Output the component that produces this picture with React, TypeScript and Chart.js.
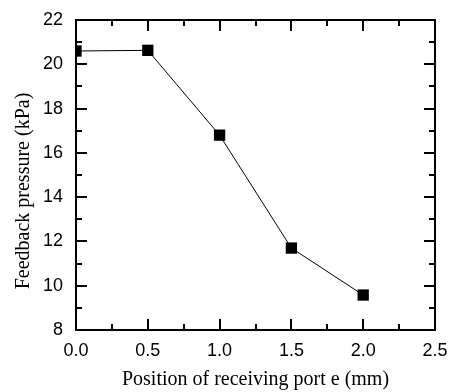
import React, { useEffect, useRef } from "react";
import { Chart, registerables } from "chart.js";

Chart.register(...registerables);

const positions = [0.0, 0.5, 1.0, 1.5, 2.0];
const pressures = [20.6, 20.63, 16.8, 11.7, 9.58];
const xTitle = "Position of receiving port e (mm)";
const yTitle = "Feedback pressure (kPa)";

const tickPlugin = {
  id: "frameTicks",
  afterDraw(chart: any) {
    const { ctx, chartArea: a, scales } = chart;
    const xs = scales.x;
    const ys = scales.y;
    ctx.save();
    ctx.strokeStyle = "#000";
    ctx.lineWidth = 2;
    ctx.strokeRect(a.left, a.top, a.right - a.left, a.bottom - a.top);
    ctx.beginPath();
    for (let i = 0; i <= 10; i++) {
      const v = i * 0.25;
      const px = Math.round(xs.getPixelForValue(v));
      const len = i % 2 === 0 ? 11 : 6;
      ctx.moveTo(px, a.bottom);
      ctx.lineTo(px, a.bottom - len);
      ctx.moveTo(px, a.top);
      ctx.lineTo(px, a.top + len);
    }
    for (let i = 0; i <= 14; i++) {
      const v = 8 + i;
      const py = Math.round(ys.getPixelForValue(v));
      const len = i % 2 === 0 ? 11 : 6;
      ctx.moveTo(a.left, py);
      ctx.lineTo(a.left + len, py);
      ctx.moveTo(a.right, py);
      ctx.lineTo(a.right - len, py);
    }
    ctx.stroke();
    // y-axis title
    ctx.translate(24, 191);
    ctx.rotate(-Math.PI / 2);
    ctx.fillStyle = "#000";
    ctx.font = '20px "Liberation Serif", "Times New Roman", serif';
    ctx.textAlign = "center";
    ctx.textBaseline = "middle";
    ctx.fillText(yTitle, 0, 0);
    ctx.restore();
  },
};

export default function App() {
  const ref = useRef<HTMLCanvasElement>(null);
  useEffect(() => {
    document.body.style.margin = "0";
    const chart = new Chart(ref.current!, {
      type: "line",
      data: {
        datasets: [
          {
            data: positions.map((x, i) => ({ x, y: pressures[i] })),
            borderColor: "#000",
            backgroundColor: "#000",
            borderWidth: 1,
            pointStyle: "rect",
            pointRadius: 8,
            pointBorderWidth: 0,
            clip: 0,
          } as any,
        ],
      },
      options: {
        animation: false,
        responsive: false,
        devicePixelRatio: 1,
        layout: { padding: { top: 20, right: 17, left: 10, bottom: 0 } },
        plugins: { legend: { display: false }, tooltip: { enabled: false } },
        scales: {
          x: {
            type: "linear",
            min: 0,
            max: 2.5,
            grid: { display: false, drawTicks: false },
            border: { display: false },
            ticks: {
              stepSize: 0.5,
              color: "#000",
              padding: 10,
              font: { family: "Liberation Sans, Arial", size: 18 },
              callback: (v: any) => Number(v).toFixed(1),
            },
            title: {
              display: true,
              text: xTitle,
              color: "#000",
              font: { family: "Liberation Serif, Times New Roman", size: 20 },
              padding: { top: 0, bottom: 0 },
            },
            afterFit: (s: any) => {
              s.height = 62;
              s.paddingLeft = 0;
              s.paddingRight = 0;
            },
          },
          y: {
            type: "linear",
            min: 8,
            max: 22,
            grid: { display: false, drawTicks: false },
            border: { display: false },
            ticks: {
              stepSize: 2,
              color: "#000",
              padding: 13,
              font: { family: "Liberation Sans, Arial", size: 18 },
            },
            title: { display: false },
            afterFit: (s: any) => {
              s.width = 66;
              s.paddingTop = 0;
              s.paddingBottom = 0;
            },
          },
        },
      },
      plugins: [tickPlugin],
    });
    return () => chart.destroy();
  }, []);
  return (
    <div style={{ width: 452, height: 392 }}>
      <canvas ref={ref} width={452} height={392} />
    </div>
  );
}
